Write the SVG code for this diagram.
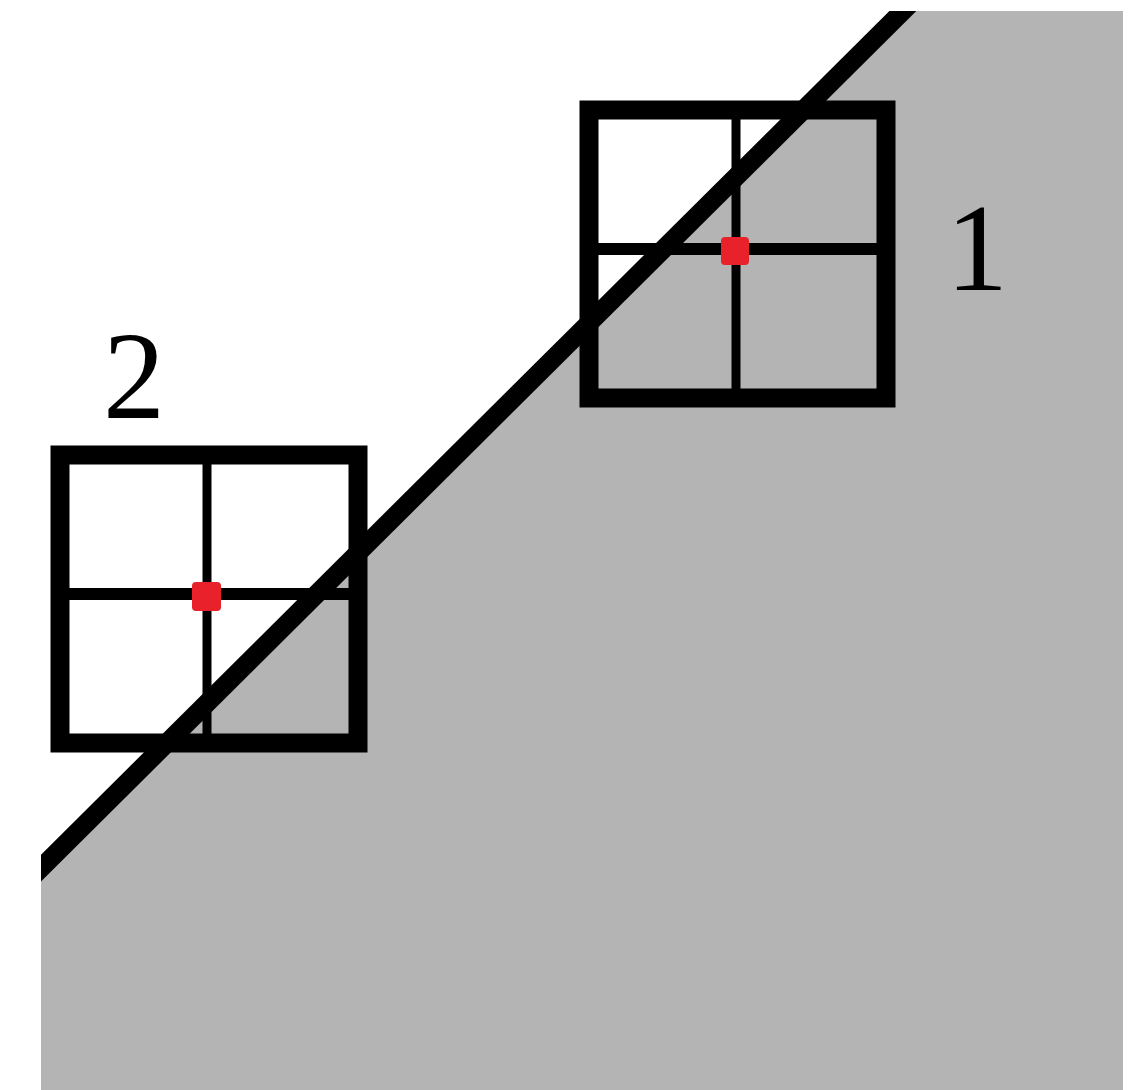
<svg xmlns="http://www.w3.org/2000/svg" width="1143" height="1090" viewBox="0 0 1143 1090">
  <style>
    .frame { fill: none; stroke: #000; stroke-width: 19; }
    .vbar { stroke: #000; stroke-width: 9; }
    .hbar { stroke: #000; stroke-width: 12; }
    .dot { fill: #e8212b; }
    .lbl { font-family: "Liberation Serif", "Times New Roman", serif; font-size: 124px; fill: #000; text-anchor: middle; }
  </style>
  <defs>
    <clipPath id="area"><rect x="41" y="11" width="1082" height="1079"/></clipPath>
  </defs>
  <rect x="0" y="0" width="1143" height="1090" fill="#fff"/>
  <g id="ground">
    <polygon points="41,868 903,11 1123,11 1123,1090 41,1090" fill="#b4b4b4"/>
  </g>
  <g id="connectors" clip-path="url(#area)">
    <line x1="20" y1="889" x2="925" y2="-11" stroke="#000" stroke-width="19"/>
  </g>
  <g id="box1">
    <rect class="frame" x="589" y="110" width="297" height="288"/>
    <line class="vbar" x1="736" y1="110" x2="736" y2="398"/>
    <line class="hbar" x1="589" y1="249" x2="886" y2="249"/>
    <rect class="dot" x="721" y="237" width="28" height="28" rx="4"/>
  </g>
  <g id="box2">
    <rect class="frame" x="60" y="455" width="298" height="288"/>
    <line class="vbar" x1="207" y1="455" x2="207" y2="743"/>
    <line class="hbar" x1="60" y1="594" x2="358" y2="594"/>
    <rect class="dot" x="192" y="582" width="29" height="29" rx="4"/>
  </g>
  <g id="label1">
    <text class="lbl" x="977" y="290">1</text>
  </g>
  <g id="label2">
    <text class="lbl" x="134" y="418">2</text>
  </g>
</svg>
